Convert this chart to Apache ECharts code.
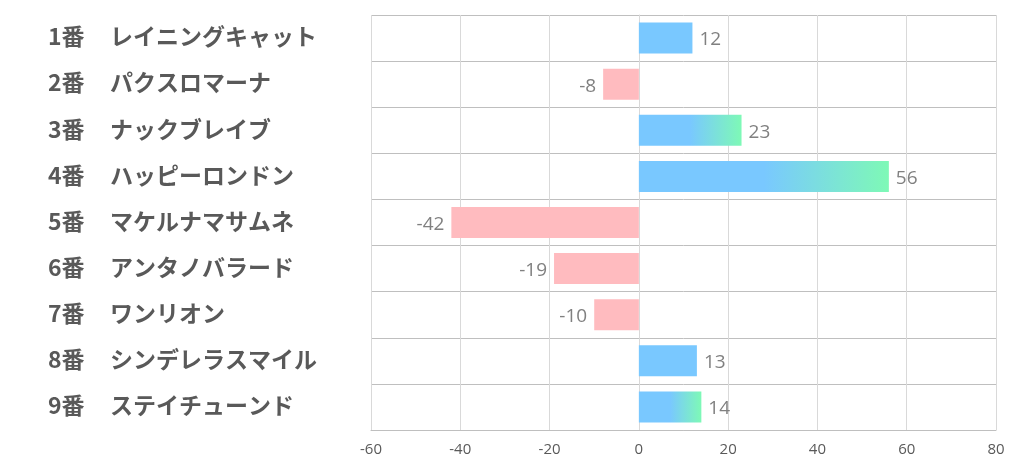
<!DOCTYPE html>
<html><head><meta charset="utf-8">
<script src="https://cdn.jsdelivr.net/npm/echarts@6/dist/echarts.min.js"></script>
<style>html,body{margin:0;padding:0;background:#fff}#c{width:1022px;height:470px}</style>
</head><body><div id="c"></div>
<script>
var numbers = ['1番','2番','3番','4番','5番','6番','7番','8番','9番'];
var names = ['レイニングキャット','パクスロマーナ','ナックブレイブ','ハッピーロンドン','マケルナマサムネ','アンタノバラード','ワンリオン','シンデレラスマイル','ステイチューンド'];
var values = [12, -8, 23, 56, -42, -19, -10, 13, 14];
var xTicks = [-60, -40, -20, 0, 20, 40, 60, 80];

var sorted = values.slice().sort(function(a,b){return b-a;});
var top3 = sorted[2];
var blue = '#79C8FF', green = '#7EF9B6', pink = '#FFBBBF';
var data = values.map(function(v){
  var c;
  if (v < 0) c = pink;
  else if (v >= top3) c = new echarts.graphic.LinearGradient(0,0,1,0,[{offset:0,color:blue},{offset:0.5,color:blue},{offset:1,color:green}]);
  else c = blue;
  return {value: v, itemStyle: {color: c}, label: {position: v < 0 ? 'left' : 'right'}};
});
var cats = numbers.map(function(n,i){return n + '|' + names[i];});

var chart = echarts.init(document.getElementById('c'));
chart.setOption({
  animation: false,
  grid: {left: 371, right: 26, top: 15, bottom: 40},
  xAxis: {
    type: 'value', min: xTicks[0], max: xTicks[xTicks.length-1], interval: 20,
    axisLine: {show: true, lineStyle: {color: '#bfbfbf'}},
    axisTick: {show: false},
    axisLabel: {color: '#595959', fontSize: 15, margin: 12, fontFamily: 'Open Sans'},
    splitLine: {show: true, lineStyle: {color: '#d9d9d9', width: 1}}
  },
  yAxis: {
    type: 'category', data: cats, inverse: true,
    axisLine: {show: true, lineStyle: {color: '#d9d9d9'}},
    axisTick: {show: false},
    splitLine: {show: true, lineStyle: {color: '#bfbfbf', width: 1}},
    axisLabel: {
      align: 'left', margin: 323, padding: [0, 0, 3, 0],
      formatter: function(v){var p = v.split('|'); return '{n|' + p[0] + '}{m|' + p[1] + '}';},
      rich: {
        n: {width: 62, fontSize: 23, fontWeight: 'bold', color: '#595959', fontFamily: 'Noto Sans CJK JP'},
        m: {fontSize: 23, fontWeight: 'bold', color: '#595959', fontFamily: 'Noto Sans CJK JP'}
      }
    }
  },
  series: [{
    type: 'bar', data: data, barWidth: 31,
    label: {show: true, distance: 7, offset: [0, 2], fontSize: 19, color: '#808080', fontFamily: 'Open Sans'}
  }]
});
</script></body></html>
